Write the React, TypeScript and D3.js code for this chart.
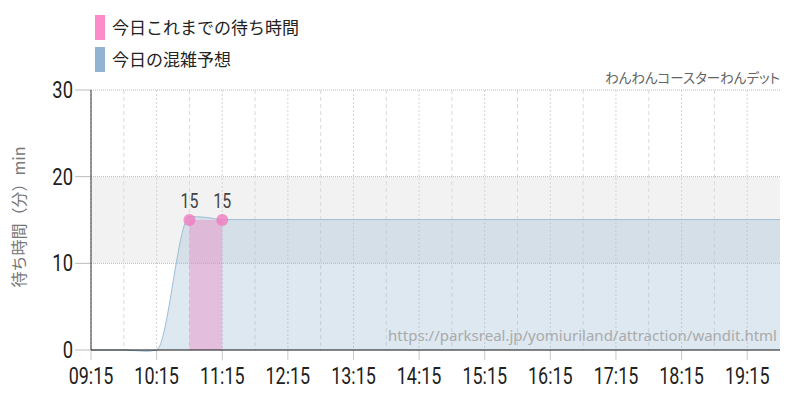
import React from "react";
import * as d3 from "d3";

const forecastTimes = ["09:15", "09:45", "10:05", "10:15", "10:45", "11:00", "11:15", "12:15", "13:15", "14:15", "15:15", "16:15", "17:15", "18:15", "19:15", "19:45"];
const forecastValues = [0, 0, -0.15, 0, 15.4, 15.3, 15.05, 15.05, 15.05, 15.05, 15.05, 15.05, 15.05, 15.05, 15.05, 15.05];
const actualTimes = ["10:45", "11:15"];
const actualValues = [15, 15];
const xTickLabels = ["09:15", "10:15", "11:15", "12:15", "13:15", "14:15", "15:15", "16:15", "17:15", "18:15", "19:15"];
const yTicks = [0, 10, 20, 30];
const legendLabels = ["今日これまでの待ち時間", "今日の混雑予想"];
const legendColors = ["#fd8bca", "#92b4d2"];
const title = "わんわんコースターわんデット";
const watermark = "https://parksreal.jp/yomiuriland/attraction/wandit.html";
const yLabel = "待ち時間（分）min";

const toDate = (s: string) => {
  const [h, m] = s.split(":").map(Number);
  return new Date(2024, 0, 1, h, m);
};

export default function App() {
  const W = 800, H = 400;
  const left = 91, right = 780, top = 90, bottom = 350;
  const x = d3.scaleTime().domain([toDate("09:15"), toDate("19:45")]).range([left, right]);
  const y = d3.scaleLinear().domain([0, 30]).range([bottom, top]);

  const fData = forecastTimes.map((t, i) => ({ t: toDate(t), v: forecastValues[i] }));
  const aData = actualTimes.map((t, i) => ({ t: toDate(t), v: actualValues[i] }));

  const fArea = d3.area<any>().x(d => x(d.t)).y0(y(0)).y1(d => y(d.v)).curve(d3.curveMonotoneX)(fData) || "";
  const fLine = d3.line<any>().x(d => x(d.t)).y(d => y(d.v)).curve(d3.curveMonotoneX)(fData) || "";
  const aArea = d3.area<any>().x(d => x(d.t)).y0(y(0)).y1(d => y(d.v))(aData) || "";

  const hourTicks = xTickLabels.map(toDate);
  const halfTicks = hourTicks.map(d => d3.timeMinute.offset(d, 30)).filter(d => x(d) < right - 1);
  const tickFont = "Roboto, sans-serif";
  const cjk = "'Noto Sans CJK JP', sans-serif";

  return (
    <svg width={W} height={H} style={{ position: "absolute", left: 0, top: 0, background: "#fff" }}>
      {/* legend */}
      {legendLabels.map((l, i) => (
        <g key={l}>
          <rect x={95} y={15 + i * 32} width={10} height={25} fill={legendColors[i]} />
          <text x={112} y={34 + i * 32} fontFamily={cjk} fontSize={17} fill="#222">{l}</text>
        </g>
      ))}
      <text x={780} y={83} textAnchor="end" fontFamily={cjk} fontSize={13.5} fill="#666" style={{ fontFeatureSettings: '"palt"' }}>{title}</text>

      {/* band 10-20 */}
      <rect x={left} y={y(20)} width={right - left} height={y(10) - y(20)} fill="#f2f2f2" />

      {/* vertical grid */}
      {halfTicks.map((d, i) => (
        <line key={"h" + i} x1={x(d)} x2={x(d)} y1={top} y2={bottom} stroke="#dadada" strokeDasharray="4,3" />
      ))}
      {hourTicks.map((d, i) => (
        <g key={"t" + i}>
          <line x1={x(d)} x2={x(d)} y1={top} y2={bottom} stroke="#d4d4d4" strokeDasharray="2,2" />
          <line x1={x(d)} x2={x(d)} y1={bottom} y2={bottom + 10} stroke="#c8c8c8" />
        </g>
      ))}
      {/* horizontal grid */}
      {yTicks.filter(v => v > 0).map(v => (
        <line key={v} x1={left} x2={right} y1={y(v)} y2={y(v)} stroke="#bbb" strokeDasharray="1,1" />
      ))}
      {yTicks.map(v => (
        <line key={"yt" + v} x1={75} x2={left} y1={y(v)} y2={y(v)} stroke="#bbb" />
      ))}

      {/* forecast */}
      <path d={fArea} fill="rgba(143,179,208,0.3)" />
      <path d={fLine} fill="none" stroke="#9ebdd6" strokeWidth={1} />
      {/* actual */}
      <path d={aArea} fill="rgba(240,128,192,0.4)" />
      {aData.map((d, i) => (
        <g key={"a" + i}>
          <circle cx={x(d.t)} cy={y(d.v)} r={6} fill="#f07cc0" fillOpacity={0.8} />
          <text transform={`translate(${x(d.t)},${y(d.v) - 12}) scale(0.76,1)`} textAnchor="middle" fontFamily={tickFont} fontWeight={400} fontSize={21} fill="#444">{d.v}</text>
        </g>
      ))}

      {/* axes */}
      <line x1={left} x2={left} y1={top} y2={bottom} stroke="#333" />
      <line x1={left} x2={right} y1={bottom} y2={bottom} stroke="#111" />

      {yTicks.map(v => (
        <text key={"yl" + v} transform={`translate(73,${y(v) + 8}) scale(0.8,1)`} textAnchor="end" fontFamily={tickFont} fontWeight={400} fontSize={23} fill="#222">{v}</text>
      ))}
      {hourTicks.map((d, i) => (
        <text key={"xl" + i} transform={`translate(${x(d)},${bottom + 34}) scale(0.78,1)`} textAnchor="middle" fontFamily={tickFont} fontWeight={400} fontSize={23} fill="#222">{xTickLabels[i]}</text>
      ))}

      <text transform={`translate(25,217) rotate(-90)`} textAnchor="middle" fontFamily={cjk} fontSize={16} fill="#777">{yLabel}</text>

      <text x={777} y={341} textAnchor="end" fontFamily="'Noto Sans', sans-serif" fontSize={15} fill="#aaa">{watermark}</text>
    </svg>
  );
}
